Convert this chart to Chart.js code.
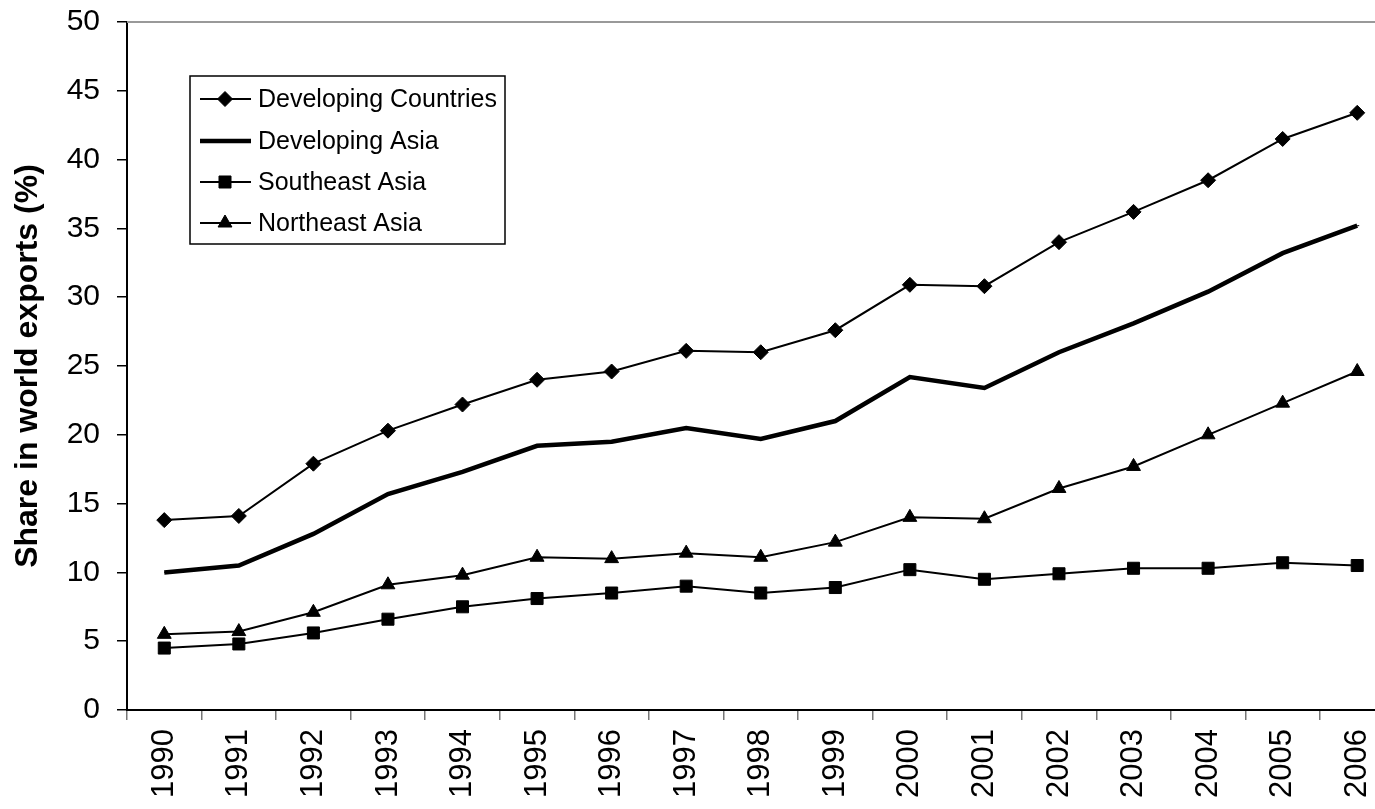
<!DOCTYPE html>
<html lang="en">
<head>
    <meta charset="UTF-8">
    <title>Share in world exports</title>
    <script src="https://cdn.jsdelivr.net/npm/chart.js"></script>
    <style>
        html, body {
            margin: 0;
            padding: 0;
            background: #fff;
            overflow: hidden;
        }
        #wrap {
            width: 1404px;
            height: 809px;
        }
    </style>
</head>
<body>
    <div id="wrap">
        <canvas id="chart" width="1404" height="809"></canvas>
    </div>

    <script>
        const years = ['1990', '1991', '1992', '1993', '1994', '1995', '1996', '1997', '1998',
                       '1999', '2000', '2001', '2002', '2003', '2004', '2005', '2006'];
        const developingCountries = [13.8, 14.1, 17.9, 20.3, 22.2, 24.0, 24.6, 26.1, 26.0,
                                     27.6, 30.9, 30.8, 34.0, 36.2, 38.5, 41.5, 43.4];
        const developingAsia = [10.0, 10.5, 12.8, 15.7, 17.3, 19.2, 19.5, 20.5, 19.7,
                                21.0, 24.2, 23.4, 26.0, 28.1, 30.4, 33.2, 35.2];
        const southeastAsia = [4.5, 4.8, 5.6, 6.6, 7.5, 8.1, 8.5, 9.0, 8.5,
                               8.9, 10.2, 9.5, 9.9, 10.3, 10.3, 10.7, 10.5];
        const northeastAsia = [5.5, 5.7, 7.1, 9.1, 9.8, 11.1, 11.0, 11.4, 11.1,
                               12.2, 14.0, 13.9, 16.1, 17.7, 20.0, 22.3, 24.6];
        const yTicks = [0, 5, 10, 15, 20, 25, 30, 35, 40, 45, 50];

        const FONT = "'Liberation Sans', Arial, sans-serif";

        // legend box inside the plot + the grey frame line on top
        const boxLegend = {
            id: 'boxLegend',
            afterDraw(chart) {
                const ctx = chart.ctx;
                const area = chart.chartArea;
                ctx.save();
                ctx.strokeStyle = '#999';
                ctx.lineWidth = 2;
                ctx.beginPath();
                ctx.moveTo(area.left, area.top);
                ctx.lineTo(area.right, area.top);
                ctx.stroke();

                const bx = 190, by = 76, bw = 315, bh = 168;
                ctx.fillStyle = '#fff';
                ctx.fillRect(bx, by, bw, bh);
                ctx.strokeStyle = '#000';
                ctx.lineWidth = 1.5;
                ctx.strokeRect(bx, by, bw, bh);

                ctx.font = '25px ' + FONT;
                ctx.textBaseline = 'middle';
                const rows = [99, 141, 182, 223];
                chart.data.datasets.forEach((ds, i) => {
                    const y = rows[i];
                    ctx.strokeStyle = '#000';
                    ctx.lineWidth = ds.borderWidth;
                    ctx.beginPath();
                    ctx.moveTo(200, y);
                    ctx.lineTo(251, y);
                    ctx.stroke();
                    if (ds.pointStyle !== 'dash') {
                        ctx.fillStyle = '#000';
                        ctx.lineWidth = 1;
                        Chart.helpers.drawPoint(ctx, {
                            pointStyle: ds.pointStyle,
                            radius: ds.pointRadius,
                            borderWidth: 1,
                            rotation: 0
                        }, 225, y);
                    }
                    ctx.fillStyle = '#000';
                    ctx.fillText(ds.label, 258, y + 1);
                });
                ctx.restore();
            }
        };

        function lineSet(label, data, style, radius, width) {
            return {
                label: label,
                data: data,
                borderColor: '#000',
                backgroundColor: '#000',
                borderWidth: width,
                pointStyle: style,
                pointRadius: radius,
                pointBorderWidth: 1,
                pointBorderColor: '#000',
                pointBackgroundColor: '#000',
                tension: 0
            };
        }

        new Chart(document.getElementById('chart'), {
            type: 'line',
            data: {
                labels: years,
                datasets: [
                    lineSet('Developing Countries', developingCountries, 'rectRot', 7.5, 2),
                    lineSet('Developing Asia', developingAsia, 'dash', 2, 4.5),
                    lineSet('Southeast Asia', southeastAsia, 'rect', 8.5, 2),
                    lineSet('Northeast Asia', northeastAsia, 'triangle', 8, 2)
                ]
            },
            options: {
                responsive: false,
                animation: false,
                devicePixelRatio: 1,
                layout: { padding: { top: 22, right: 0, bottom: 0, left: 0 } },
                plugins: {
                    legend: { display: false },
                    tooltip: { enabled: false }
                },
                scales: {
                    x: {
                        offset: true,
                        grid: {
                            offset: true,
                            drawOnChartArea: false,
                            drawTicks: true,
                            tickLength: 10,
                            color: '#777',
                            lineWidth: 1.5
                        },
                        border: { display: true, color: '#000', width: 2 },
                        ticks: {
                            minRotation: 90,
                            maxRotation: 90,
                            padding: 9,
                            color: '#000',
                            font: { family: FONT, size: 31 }
                        },
                        afterFit(scale) {
                            scale.height = 99;
                            scale.paddingRight = 0;
                        }
                    },
                    y: {
                        min: 0,
                        max: 50,
                        afterBuildTicks(scale) {
                            scale.ticks = yTicks.map(v => ({ value: v }));
                        },
                        grid: {
                            drawOnChartArea: false,
                            drawTicks: true,
                            tickLength: 10,
                            color: '#000',
                            lineWidth: 1.5
                        },
                        border: { display: true, color: '#000', width: 2 },
                        ticks: {
                            padding: 17,
                            color: '#000',
                            font: { family: FONT, size: 30 }
                        },
                        title: {
                            display: true,
                            text: 'Share in world exports (%)',
                            color: '#000',
                            padding: { top: 9, bottom: 0 },
                            font: { family: FONT, size: 32, weight: 'bold' }
                        },
                        afterFit(scale) {
                            scale.width = 127;
                            scale.paddingTop = 0;
                            scale.paddingBottom = 0;
                        }
                    }
                }
            },
            plugins: [boxLegend]
        });
    </script>
</body>
</html>
